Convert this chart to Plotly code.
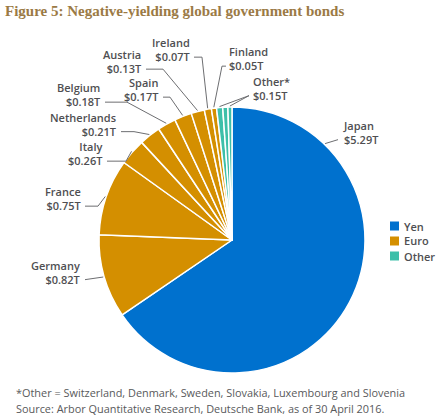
import math
import plotly.graph_objects as go

# ---------------- data ----------------
slice_names = ["Japan", "Germany", "France", "Italy", "Netherlands", "Belgium",
               "Spain", "Austria", "Ireland", "Finland",
               "Other (a)", "Other (b)", "Other (c)"]
slice_values = [5.29, 0.82, 0.75, 0.26, 0.21, 0.18, 0.17, 0.13, 0.07, 0.05,
                0.06, 0.05, 0.04]
slice_groups = ["Yen", "Euro", "Euro", "Euro", "Euro", "Euro", "Euro", "Euro",
                "Euro", "Euro", "Other", "Other", "Other"]

label_names = ["Japan", "Germany", "France", "Italy", "Netherlands", "Belgium",
               "Spain", "Austria", "Ireland", "Finland", "Other*"]
label_values = ["$5.29T", "$0.82T", "$0.75T", "$0.26T", "$0.21T", "$0.18T",
                "$0.17T", "$0.13T", "$0.07T", "$0.05T", "$0.15T"]

legend_names = ["Yen", "Euro", "Other"]

title_text = "Figure 5: Negative-yielding global government bonds"
footnote_lines = [
    "*Other = Switzerland, Denmark, Sweden, Slovakia, Luxembourg and Slovenia",
    "Source: Arbor Quantitative Research, Deutsche Bank, as of 30 April 2016.",
]

# ---------------- style / layout ----------------
W, H = 442, 418
CX, CY, R = 232, 240, 133
group_colors = {"Yen": "#0071CE", "Euro": "#D48F00", "Other": "#3DBFA9"}
text_color = "#4F4F52"
line_color = "#6D6E71"
FONT = "Open Sans"
LABEL_SIZE = 11

def px2paper(px, py):
    return px / W, 1 - py / H

# slice angles (clockwise from 12 o'clock)
total = sum(slice_values)
mid_angles = []
acc = 0.0
for v in slice_values:
    a = v / total * 360
    mid_angles.append(acc + a / 2)
    acc += a

def edge_pt(angle, r=R + 1):
    t = math.radians(angle)
    return CX + r * math.sin(t), CY - r * math.cos(t)

# label placement: (side, text x, label centre y, elbow xs, target angles)
label_layout = [
    ("left", 342, 132, [338], [44]),
    ("right", 82, 272, [85], [mid_angles[1]]),
    ("right", 83, 198.5, [85, 98], [mid_angles[2]]),
    ("right", 104, 153.5, [107, 126], [mid_angles[3]]),
    ("right", 118, 124, [121, 134], [mid_angles[4]]),
    ("right", 102, 94.5, [105, 127], [mid_angles[5]]),
    ("right", 160, 89.5, [163, 170], [mid_angles[6]]),
    ("right", 143, 61.5, [146, 163], [mid_angles[7]]),
    ("right", 192, 49.5, [194, 202], [mid_angles[8]]),
    ("left", 228, 58.5, [226, 222], [mid_angles[9]]),
    ("left", 252, 88, [249], [mid_angles[10], mid_angles[12]]),
]

colors = [group_colors[g] for g in slice_groups]

x0, y1 = px2paper(CX - R, CY - R)
x1, y0 = px2paper(CX + R, CY + R)

fig = go.Figure()
fig.add_trace(go.Pie(
    labels=slice_names, values=slice_values, sort=False,
    direction="clockwise", rotation=0,
    marker=dict(colors=colors, line=dict(color="white", width=1.5)),
    textinfo="none", textposition="none", hoverinfo="label+value",
    showlegend=False,
    domain=dict(x=[x0, x1], y=[y0, y1]),
))

annotations = []
shapes = []

# title
tx, ty = px2paper(3, 11)
annotations.append(dict(text="<b>" + title_text + "</b>", x=tx, y=ty, xref="paper", yref="paper",
                        xanchor="left", yanchor="middle", showarrow=False,
                        font=dict(family="Liberation Serif", size=15, color="#9B7A45")))

# slice labels and leader lines
for name, val, (side, lx, cy, elbow_xs, angles) in zip(label_names, label_values, label_layout):
    xa = "left" if side == "left" else "right"
    ax, ay = px2paper(lx, cy)
    annotations.append(dict(text=name + "<br>" + val, x=ax, y=ay, xref="paper", yref="paper",
                            xanchor=xa, yanchor="middle", align=xa, showarrow=False, borderpad=0,
                            font=dict(family=FONT, size=LABEL_SIZE, color=text_color, weight=600)))
    vy = cy + 0.65 * LABEL_SIZE + 0.5
    for ang in angles:
        pts = [(ex, vy) for ex in elbow_xs] + [edge_pt(ang)]
        path = ""
        for i, (px, py) in enumerate(pts):
            qx, qy = px2paper(px, py)
            path += ("M" if i == 0 else " L") + f" {qx:.5f},{qy:.5f}"
        shapes.append(dict(type="path", path=path, xref="paper", yref="paper",
                           line=dict(color=line_color, width=1)))

# legend (drawn)
for i, g in enumerate(legend_names):
    cy = 226 + i * 15
    ax0, ay0 = px2paper(390, cy - 4.5)
    ax1, ay1 = px2paper(399, cy + 4.5)
    shapes.append(dict(type="rect", x0=ax0, x1=ax1, y0=ay1, y1=ay0, xref="paper", yref="paper",
                       fillcolor=group_colors[g], line=dict(width=0)))
    lx, ly = px2paper(403, cy)
    annotations.append(dict(text=g, x=lx, y=ly, xref="paper", yref="paper",
                            xanchor="left", yanchor="middle", showarrow=False, borderpad=0,
                            font=dict(family=FONT, size=11, color=text_color, weight=600)))

# footnotes
for i, line in enumerate(footnote_lines):
    fx, fy = px2paper(15, 392 + i * 16)
    annotations.append(dict(text=line, x=fx, y=fy, xref="paper", yref="paper",
                            xanchor="left", yanchor="middle", showarrow=False, borderpad=0,
                            font=dict(family=FONT, size=10.9, color="#58595B")))

fig.update_layout(
    width=W, height=H,
    margin=dict(l=0, r=0, t=0, b=0),
    paper_bgcolor="white", plot_bgcolor="white",
    annotations=annotations, shapes=shapes,
    showlegend=False,
)

fig.write_html("out.html",
               config={"displayModeBar": False},
               post_script="document.body.style.margin='0';document.body.style.padding='0';")
